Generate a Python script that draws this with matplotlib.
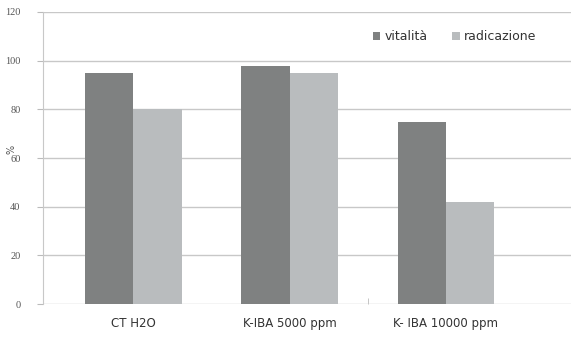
import numpy as np
import matplotlib.pyplot as plt

# dati
categorie = ['CT H2O', 'K-IBA 5000 ppm', 'K- IBA 10000 ppm']
vitalita = [95, 98, 75]
radicazione = [80, 95, 42]
yticks = [0, 20, 40, 60, 80, 100, 120]

fig = plt.figure(figsize=(5.71, 3.41), dpi=100)
ax = fig.add_axes([0.075, 0.108, 0.925, 0.857])

x = np.arange(len(categorie))
w = 0.31
ax.bar(x - w / 2, vitalita, w, color='#7f8181', label='vitalità', zorder=3)
ax.bar(x + w / 2, radicazione, w, color='#b9bcbe', label='radicazione', zorder=3)

ax.set_ylim(0, 120)
ax.set_xlim(-0.58, 2.8)
ax.set_yticks(yticks)
ax.set_yticklabels([str(v) for v in yticks], fontsize=7.5, color='#555555', family='Liberation Serif')
ax.yaxis.grid(True, color='#c8c8c8', linewidth=1, zorder=0)
ax.tick_params(axis='y', length=4, color='#bbbbbb', pad=12)

ax.set_xticks(x)
ax.set_xticklabels(categorie, fontsize=8.5, color='#333333')
ax.tick_params(axis='x', length=0, pad=9)
ax.set_xticks([1.5], minor=True)
ax.tick_params(axis='x', which='minor', length=4, color='#bbbbbb', direction='in')

for s in ['top', 'right', 'bottom']:
    ax.spines[s].set_visible(False)
ax.spines['left'].set_color('#c8c8c8')

ax.set_ylabel('%', fontsize=7, color='#555555')
ax.yaxis.set_label_coords(-0.05, 0.53)

ax.legend(loc='upper right', bbox_to_anchor=(0.955, 0.975), ncol=2, frameon=False,
          fontsize=9, handlelength=0.6, handleheight=0.6, handletextpad=0.3,
          columnspacing=2.0, labelcolor='#333333')

plt.savefig('out.png', dpi=100)
